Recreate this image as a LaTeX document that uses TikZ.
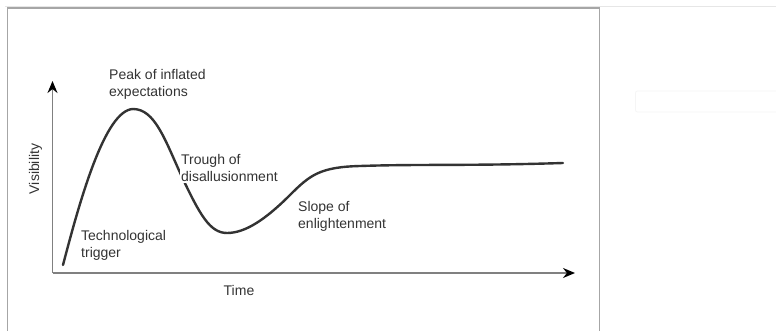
\documentclass[tikz,border=0pt]{standalone}
\usepackage{fontspec}
\setmainfont{Liberation Sans}
\usetikzlibrary{arrows.meta}
\definecolor{ink}{HTML}{333333}
\definecolor{axisgray}{HTML}{808080}
\definecolor{framegray}{HTML}{A6A6A6}
\definecolor{rulegray}{HTML}{E6E6E6}
\definecolor{ghost}{HTML}{F5F5F5}
\begin{document}
\begin{tikzpicture}[x=1pt,y=-1pt,
  label/.style={text=ink, align=left, anchor=base west, inner sep=1pt,
    font=\fontsize{14}{17}\selectfont},
  axis/.style={draw=axisgray, line width=1.6pt,
    -{Stealth[length=12pt,width=10pt,color=black]}},
  hype/.style={draw=ink, line width=2.4pt, line cap=round}]
\useasboundingbox (0,0) rectangle (776,331);

% page rule and chart frame
\draw[rulegray, line width=1pt] (5,6.5) -- (776,6.5);
\draw[framegray, line width=1.6pt] (7.5,340) -- (7.5,8) -- (599.5,8) -- (599.5,340);
% faint empty field on the right
\draw[ghost, line width=0.8pt, rounded corners=2pt] (635.5,91) rectangle (790,112);

% axes
\coordinate (O) at (52.5,273);
\coordinate (ytip) at (52.5,81);
\coordinate (xtip) at (575,273);
\draw[axis] (O) -- (ytip);
\draw[axis] (O) -- (xtip);

% hype curve
\coordinate (start) at (63,265);
\coordinate (peak) at (133,109);
\coordinate (fall) at (182,177);
\coordinate (trough) at (227,233);
\coordinate (climb) at (290,195);
\coordinate (plateau) at (360,166);
\coordinate (finish) at (563,163);
\draw[hype] (start) .. controls (80,200) and (105,110) .. (peak)
  .. controls (155,109) and (165,140) .. (fall)
  .. controls (200,215) and (210,233) .. (trough)
  .. controls (245,233) and (265,220) .. (climb)
  .. controls (310,175) and (320,167) .. (plateau)
  .. controls (420,164) and (470,166) .. (finish);

% phase labels (anchored on the baseline of their last line)
\node[label] (lpeak) at (108,97) {Peak of inflated\\expectations};
\node[label, fill=white] (ltrough) at (180,182) {Trough of\\disallusionment};
\node[label] (ltrigger) at (80,257) {Technological\\trigger};
\node[label] (lslope) at (297,228) {Slope of\\enlightenment};

% axis titles
\node[text=ink, font=\fontsize{14}{17}\selectfont, anchor=base] (ltime) at (239,295) {Time};
\node[text=ink, font=\fontsize{14}{17}\selectfont, anchor=base, rotate=90] (lvis) at (39,169) {Visibility};
\end{tikzpicture}
\end{document}
